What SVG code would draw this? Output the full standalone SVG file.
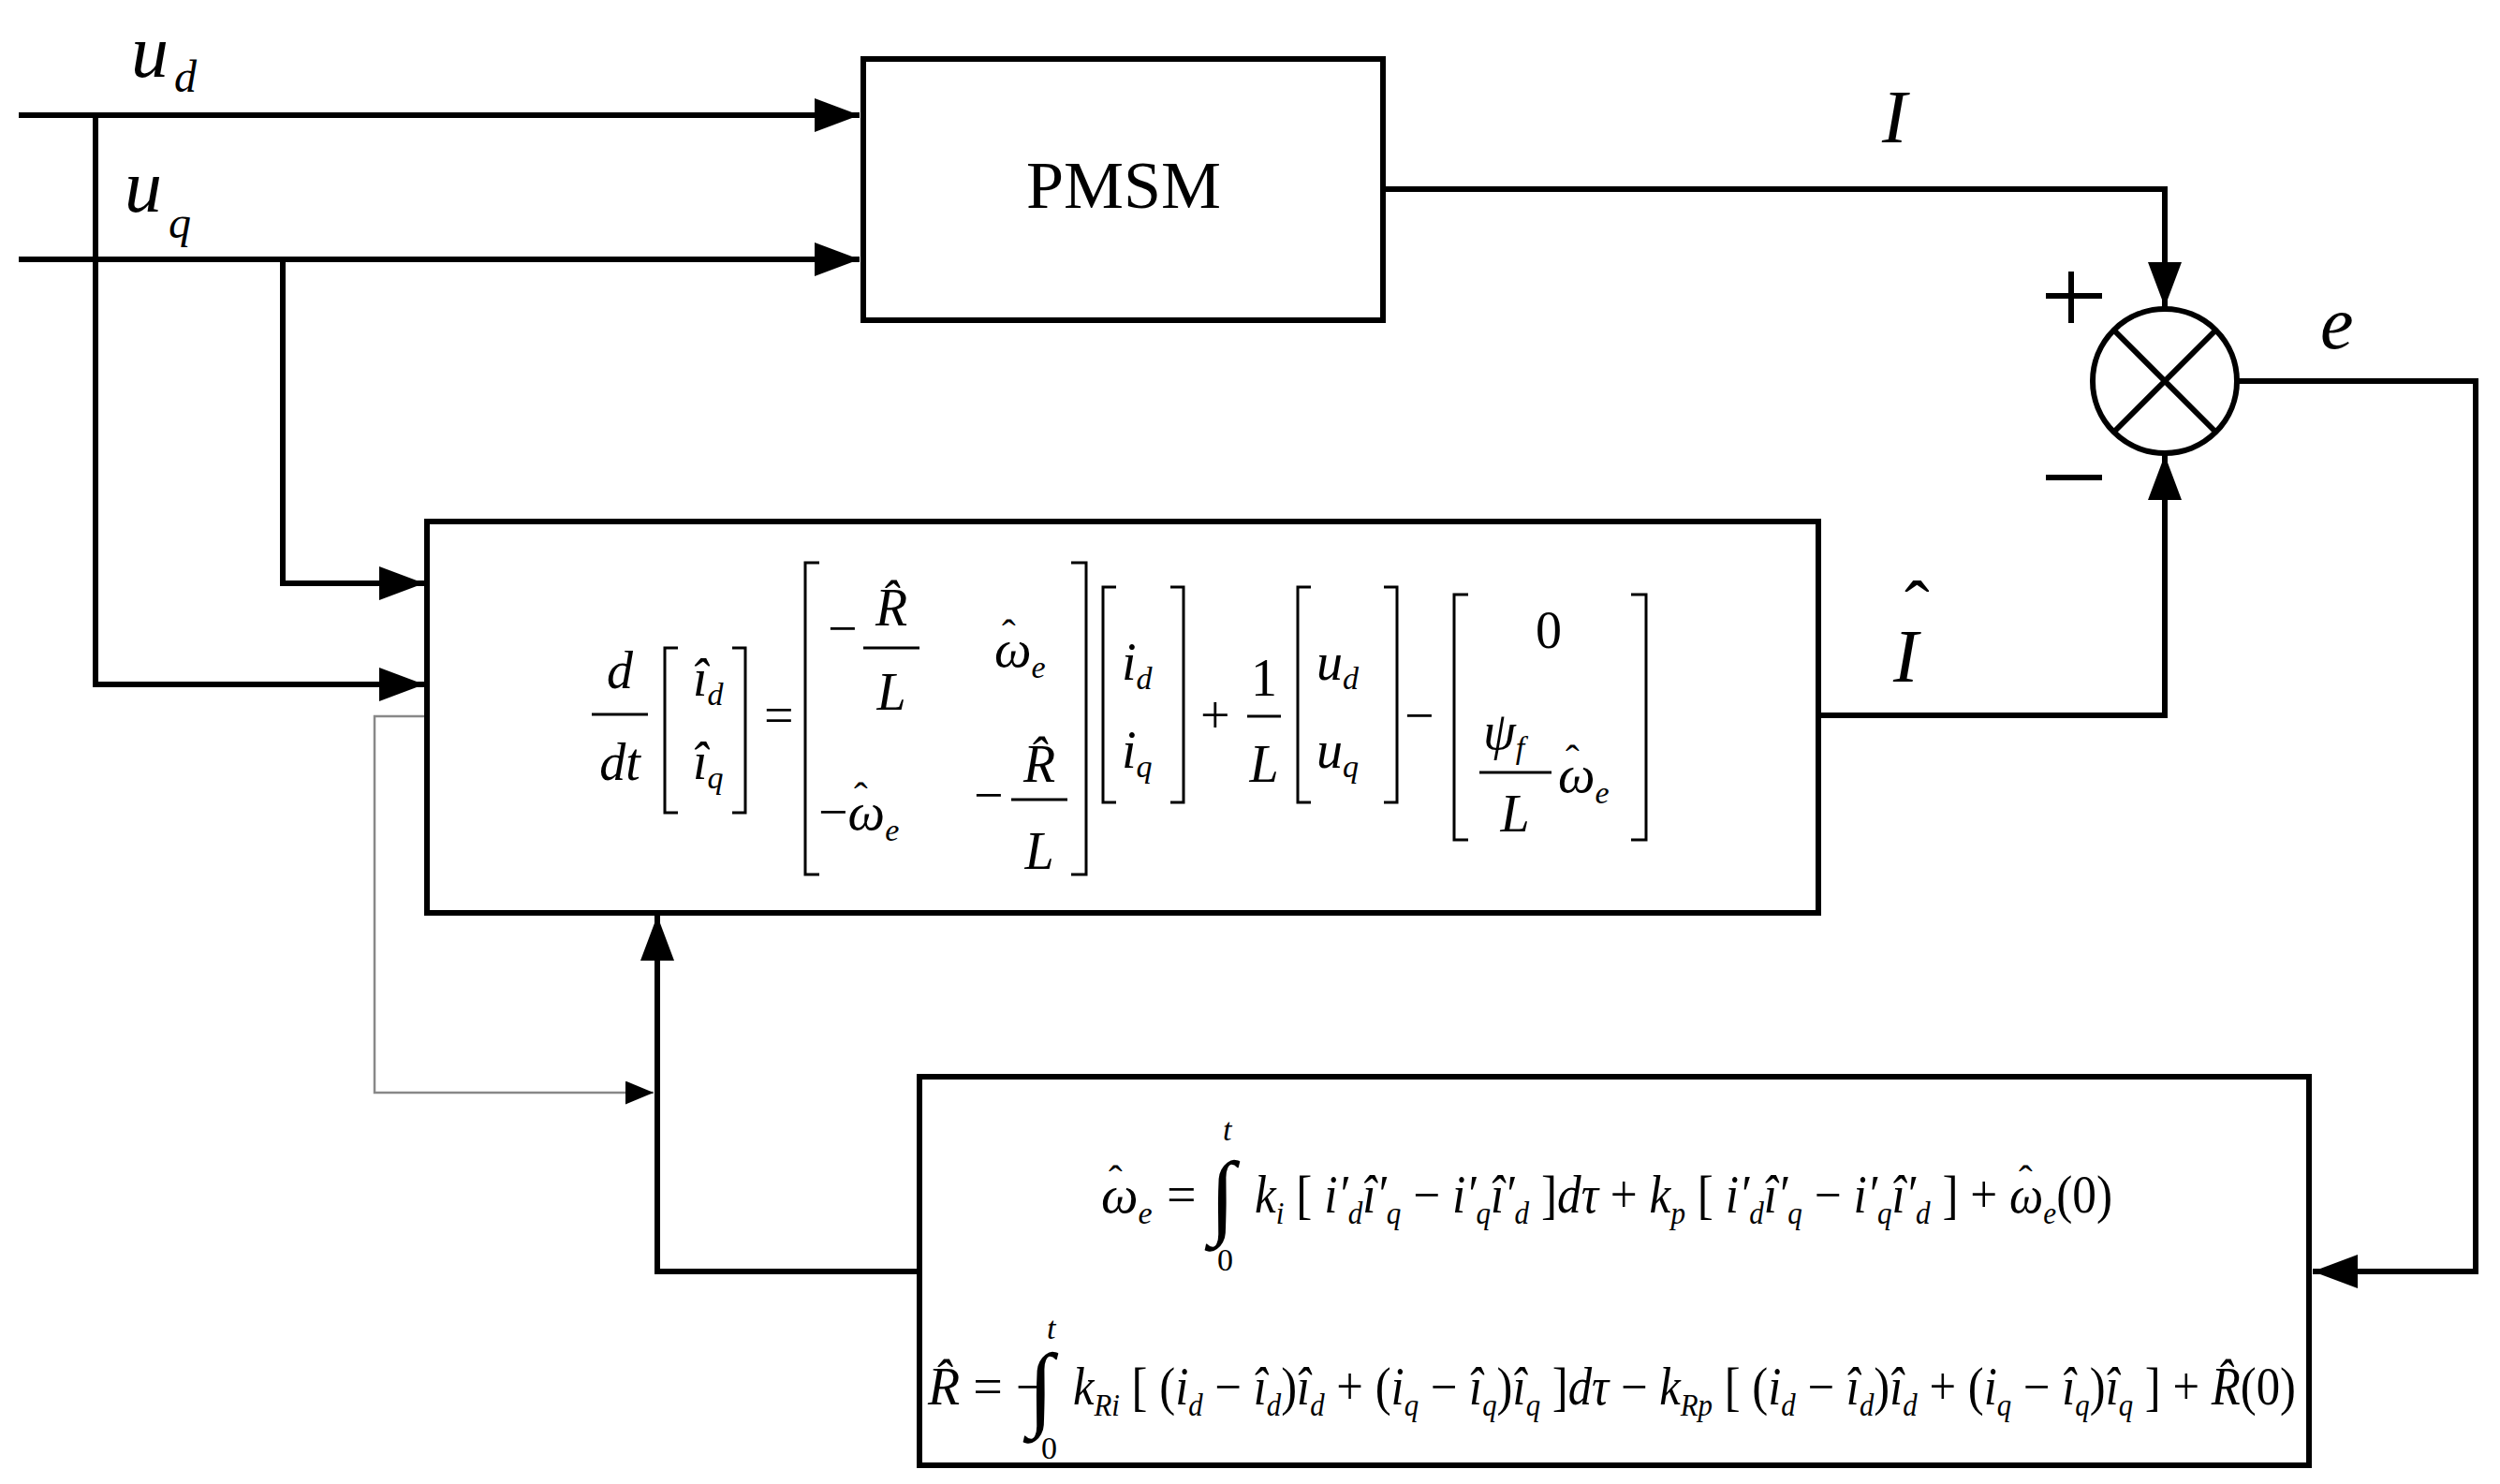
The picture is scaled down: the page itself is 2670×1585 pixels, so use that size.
<svg xmlns="http://www.w3.org/2000/svg" width="2670" height="1585" viewBox="0 0 2670 1585">
<style>
.ln{fill:none;stroke:#000;stroke-width:6}
.bk{fill:none;stroke:#000;stroke-width:3}
.gr{fill:none;stroke:#888;stroke-width:2.5}
text{font-family:"Liberation Serif","DejaVu Serif",serif;fill:#000}
.it{font-style:italic}
.eq{font-size:56px;font-style:italic}
.sb{font-size:34px}
.hat{font-size:44px;font-style:normal}
</style>
<defs>
<marker id="ar" markerWidth="8" markerHeight="6" refX="8" refY="3" orient="auto" markerUnits="strokeWidth"><path d="M0,0 L8,3 L0,6 z" fill="#000"/></marker>
<marker id="ag" markerWidth="12" markerHeight="10" refX="12" refY="5" orient="auto" markerUnits="strokeWidth"><path d="M0,0 L12,5 L0,10 z" fill="#000"/></marker>
</defs>
<rect width="2670" height="1585" fill="#fff"/>
<g id="connectors">
<path class="ln" d="M20,123 H918" marker-end="url(#ar)"/>
<path class="ln" d="M20,277 H918" marker-end="url(#ar)"/>
<path class="ln" d="M102,123 V731 H453" marker-end="url(#ar)"/>
<path class="ln" d="M302,277 V623 H453" marker-end="url(#ar)"/>
<path class="ln" d="M1477,202 H2312 V328" marker-end="url(#ar)"/>
<path class="ln" d="M1942,764 H2312 V486" marker-end="url(#ar)"/>
<path class="ln" d="M2389,407 H2644 V1358 H2470" marker-end="url(#ar)"/>
<path class="ln" d="M982,1358 H702 V978" marker-end="url(#ar)"/>
<path class="gr" d="M456,765 H400 V1167 H698" marker-end="url(#ag)"/>
</g>
<g id="labels">
<text class="it" x="140" y="82" font-size="80">u</text><text class="it" x="186" y="98" font-size="48">d</text>
<text class="it" x="133" y="226" font-size="80">u</text><text class="it" x="180" y="254" font-size="48">q</text>
<text class="it" x="2010" y="152" font-size="80">I</text>
<text class="it" x="2022" y="728" font-size="80">I</text><text x="2034" y="676" font-size="80">ˆ</text>
<text class="it" x="2478" y="372" font-size="80">e</text>
<path class="ln" d="M2212,290 V345 M2185,316 H2245 M2185,510 H2245"/>
</g>
<g id="pmsm">
<rect class="ln" x="922" y="63" width="555" height="279"/>
<text x="1200" y="222" font-size="72" text-anchor="middle">PMSM</text>
</g>
<g id="sum">
<circle class="ln" cx="2312" cy="407" r="77"/>
<path class="ln" d="M2258,353 L2366,461 M2366,353 L2258,461"/>
</g>
<g id="observer">
<rect class="ln" x="456" y="557" width="1486" height="418"/>
<g class="eq">
<text x="662" y="735" text-anchor="middle">d</text>
<path class="bk" d="M632,763 H692"/>
<text x="662" y="833" text-anchor="middle">dt</text>
<path class="bk" d="M724,692 H710 V868 H724 M782,692 H796 V868 H782"/>
<text x="740" y="743">î<tspan class="sb" dy="10">d</tspan></text>
<text x="740" y="832">î<tspan class="sb" dy="10">q</tspan></text>
<text x="816" y="783" font-style="normal">=</text>
<path class="bk" d="M875,601 H860 V934 H875 M1144,601 H1160 V934 H1144"/>
<text x="884" y="690" font-style="normal">−</text>
<text x="952" y="668" text-anchor="middle">R̂</text>
<path class="bk" d="M922,692 H982"/>
<text x="952" y="758" text-anchor="middle">L</text>
<text x="1062" y="712">ω<tspan class="sb" dy="12">e</tspan></text><text class="hat" x="1070" y="692">ˆ</text>
<text x="874" y="886"><tspan font-style="normal">−</tspan>ω<tspan class="sb" dy="12">e</tspan></text><text class="hat" x="912" y="866">ˆ</text>
<text x="1040" y="868" font-style="normal">−</text>
<text x="1110" y="835" text-anchor="middle">R̂</text>
<path class="bk" d="M1080,854 H1140"/>
<text x="1110" y="928" text-anchor="middle">L</text>
<path class="bk" d="M1192,627 H1178 V857 H1192 M1250,627 H1264 V857 H1250"/>
<text x="1198" y="726">i<tspan class="sb" dy="10">d</tspan></text>
<text x="1198" y="820">i<tspan class="sb" dy="10">q</tspan></text>
<text x="1282" y="783" font-style="normal">+</text>
<text x="1350" y="743" text-anchor="middle" font-style="normal">1</text>
<path class="bk" d="M1332,765 H1368"/>
<text x="1350" y="835" text-anchor="middle">L</text>
<path class="bk" d="M1400,627 H1386 V857 H1400 M1478,627 H1492 V857 H1478"/>
<text x="1406" y="726">u<tspan class="sb" dy="10">d</tspan></text>
<text x="1406" y="820">u<tspan class="sb" dy="10">q</tspan></text>
<text x="1500" y="783" font-style="normal">−</text>
<path class="bk" d="M1568,635 H1553 V897 H1568 M1742,635 H1758 V897 H1742"/>
<text x="1654" y="692" text-anchor="middle" font-style="normal">0</text>
<text x="1584" y="800">ψ<tspan class="sb" dy="10">f</tspan></text>
<path class="bk" d="M1580,825 H1657"/>
<text x="1618" y="888" text-anchor="middle">L</text>
<text x="1664" y="846">ω<tspan class="sb" dy="12">e</tspan></text><text class="hat" x="1672" y="826">ˆ</text>
</g>
</g>
<g id="adaptation">
<rect class="ln" x="982" y="1150" width="1484" height="415"/>
<g class="eq">
<text x="1176" y="1295">ω<tspan class="sb" dy="12">e</tspan></text><text class="hat" x="1184" y="1275">ˆ</text>
<text x="1246" y="1295" font-style="normal">=</text>
<text x="1292" y="1310" font-size="100" font-style="normal">∫</text>
<text x="1306" y="1218" class="sb">t</text>
<text x="1300" y="1357" class="sb" font-style="normal">0</text>
<text x="1340" y="1295" textLength="916" lengthAdjust="spacingAndGlyphs">k<tspan class="sb" dy="12">i</tspan><tspan dy="-12" font-style="normal"> [ </tspan>i′<tspan class="sb" dy="12">d</tspan><tspan dy="-12">î′</tspan><tspan class="sb" dy="12">q</tspan><tspan dy="-12" font-style="normal"> − </tspan>i′<tspan class="sb" dy="12">q</tspan><tspan dy="-12">î′</tspan><tspan class="sb" dy="12">d</tspan><tspan dy="-12" font-style="normal"> ]</tspan>dτ<tspan font-style="normal"> + </tspan>k<tspan class="sb" dy="12">p</tspan><tspan dy="-12" font-style="normal"> [ </tspan>i′<tspan class="sb" dy="12">d</tspan><tspan dy="-12">î′</tspan><tspan class="sb" dy="12">q</tspan><tspan dy="-12" font-style="normal"> − </tspan>i′<tspan class="sb" dy="12">q</tspan><tspan dy="-12">î′</tspan><tspan class="sb" dy="12">d</tspan><tspan dy="-12" font-style="normal"> ] + </tspan>ω<tspan class="sb" dy="12">e</tspan><tspan dy="-12" font-style="normal">(0)</tspan></text>
<text class="hat" x="2156" y="1275">ˆ</text>
<text x="991" y="1500">R̂<tspan font-style="normal"> = −</tspan></text>
<text x="1098" y="1515" font-size="100" font-style="normal">∫</text>
<text x="1118" y="1430" class="sb">t</text>
<text x="1112" y="1558" class="sb" font-style="normal">0</text>
<text x="1146" y="1500" textLength="1306" lengthAdjust="spacingAndGlyphs">k<tspan class="sb" dy="12">Ri</tspan><tspan dy="-12" font-style="normal"> [ (</tspan>i<tspan class="sb" dy="12">d</tspan><tspan dy="-12" font-style="normal"> − </tspan>î<tspan class="sb" dy="12">d</tspan><tspan dy="-12" font-style="normal">)</tspan>î<tspan class="sb" dy="12">d</tspan><tspan dy="-12" font-style="normal"> + (</tspan>i<tspan class="sb" dy="12">q</tspan><tspan dy="-12" font-style="normal"> − </tspan>î<tspan class="sb" dy="12">q</tspan><tspan dy="-12" font-style="normal">)</tspan>î<tspan class="sb" dy="12">q</tspan><tspan dy="-12" font-style="normal"> ]</tspan>dτ<tspan font-style="normal"> − </tspan>k<tspan class="sb" dy="12">Rp</tspan><tspan dy="-12" font-style="normal"> [ (</tspan>i<tspan class="sb" dy="12">d</tspan><tspan dy="-12" font-style="normal"> − </tspan>î<tspan class="sb" dy="12">d</tspan><tspan dy="-12" font-style="normal">)</tspan>î<tspan class="sb" dy="12">d</tspan><tspan dy="-12" font-style="normal"> + (</tspan>i<tspan class="sb" dy="12">q</tspan><tspan dy="-12" font-style="normal"> − </tspan>î<tspan class="sb" dy="12">q</tspan><tspan dy="-12" font-style="normal">)</tspan>î<tspan class="sb" dy="12">q</tspan><tspan dy="-12" font-style="normal"> ] + </tspan>R̂<tspan font-style="normal">(0)</tspan></text>
</g>
</g>
</svg>
